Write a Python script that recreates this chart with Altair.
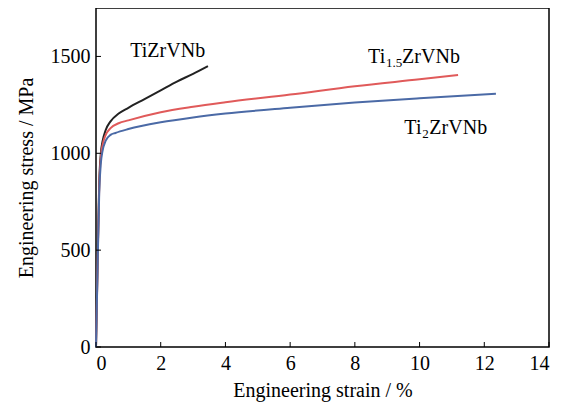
import altair as alt
import pandas as pd

# --- data ---
strain_a = [0, 0.05, 0.1, 0.15, 0.2, 0.3, 0.45, 0.7, 1.0, 1.5, 2.0, 2.5, 3.0, 3.46]
stress_a = [0, 450, 850, 1000, 1060, 1120, 1165, 1205, 1235, 1280, 1325, 1370, 1410, 1450]

strain_b = [0, 0.05, 0.1, 0.15, 0.2, 0.3, 0.45, 0.7, 1.0, 2, 3, 4, 6, 8, 10, 11.19]
stress_b = [0, 430, 830, 980, 1040, 1095, 1130, 1155, 1170, 1212, 1240, 1263, 1303, 1346, 1382, 1404]

strain_c = [0, 0.05, 0.1, 0.15, 0.2, 0.3, 0.45, 0.6, 1.0, 2, 3, 4, 6, 8, 10, 12.36]
stress_c = [0, 420, 800, 950, 1010, 1065, 1095, 1105, 1125, 1160, 1185, 1205, 1235, 1262, 1284, 1307]

series_names = ["TiZrVNb", "Ti1.5ZrVNb", "Ti2ZrVNb"]
series_colors = ["#222222", "#e05a5a", "#4b6aa6"]

x_ticks = [0, 2, 4, 6, 8, 10, 12, 14]
y_ticks = [0, 500, 1000, 1500]

# curve labels: main text, subscript, rest of the formula, anchor position
label_main = ["TiZrVNb", "Ti", "Ti"]
label_sub = ["", "1.5", "2"]
label_rest = ["", "ZrVNb", "ZrVNb"]
label_x = [1.06, 8.41, 9.53]
label_y = [1497, 1468, 1102]
sub_dx = [0, 18, 18]
rest_dx = [0, 34, 25]

FONT = "Times New Roman"

rows = []
for name, xs_, ys_ in [(series_names[0], strain_a, stress_a),
                       (series_names[1], strain_b, stress_b),
                       (series_names[2], strain_c, stress_c)]:
    for i, (a, b) in enumerate(zip(xs_, ys_)):
        rows.append({"series": name, "strain": a, "stress": b, "order": i})
df = pd.DataFrame(rows)

xs = alt.Scale(domain=[0, 14], nice=False)
ys = alt.Scale(domain=[0, 1750], nice=False)

lines = alt.Chart(df).mark_line(strokeWidth=2, interpolate="monotone").encode(
    x=alt.X("strain:Q", scale=xs, title="Engineering strain / %",
            axis=alt.Axis(values=x_ticks, format="d", tickSize=0, labelPadding=6, titlePadding=7,
                          labelFont=FONT, titleFont=FONT)),
    y=alt.Y("stress:Q", scale=ys, title="Engineering stress / MPa",
            axis=alt.Axis(values=y_ticks, format="d", tickSize=0, labelPadding=6, titlePadding=14,
                          labelFont=FONT, titleFont=FONT)),
    color=alt.Color("series:N", scale=alt.Scale(domain=series_names, range=series_colors), legend=None),
    order="order:Q",
)

xt = pd.DataFrame({"t": x_ticks})
yt = pd.DataFrame({"t": y_ticks})
xtick_marks = alt.Chart(xt).mark_rule(color="black", strokeWidth=1).encode(
    x=alt.X("t:Q", scale=xs), y=alt.value(339), y2=alt.value(334))
ytick_marks = alt.Chart(yt).mark_rule(color="black", strokeWidth=1).encode(
    y=alt.Y("t:Q", scale=ys), x=alt.value(0), x2=alt.value(5))

lab = pd.DataFrame({"main": label_main, "sub": label_sub, "rest": label_rest,
                    "x": label_x, "y": label_y})
t_main = alt.Chart(lab).mark_text(align="left", baseline="alphabetic", font=FONT, fontSize=20,
                                  color="black").encode(
    x=alt.X("x:Q", scale=xs), y=alt.Y("y:Q", scale=ys), text="main:N")
layers = [t_main]
for i in range(1, 3):
    one = alt.Chart(lab.iloc[[i]])
    layers.append(one.mark_text(align="left", baseline="alphabetic", font=FONT, fontSize=13,
                                color="black", dx=sub_dx[i], dy=4).encode(
        x=alt.X("x:Q", scale=xs), y=alt.Y("y:Q", scale=ys), text="sub:N"))
    layers.append(one.mark_text(align="left", baseline="alphabetic", font=FONT, fontSize=20,
                                color="black", dx=rest_dx[i]).encode(
        x=alt.X("x:Q", scale=xs), y=alt.Y("y:Q", scale=ys), text="rest:N"))

chart = alt.layer(lines, xtick_marks, ytick_marks, *layers).properties(
    width=453, height=339,
    autosize=alt.AutoSizeParams(type="none"),
    padding={"left": 88, "top": 0, "right": 10, "bottom": 60},
).configure(font=FONT).configure_view(stroke="black", strokeWidth=1.5).configure_axis(
    domain=False, grid=False,
    labelFont=FONT, titleFont=FONT, labelFontSize=20, titleFontSize=20,
    labelColor="black", titleColor="black", titleFontWeight="normal",
)

chart.save("out.html", embed_options={"renderer": "svg", "actions": False})
